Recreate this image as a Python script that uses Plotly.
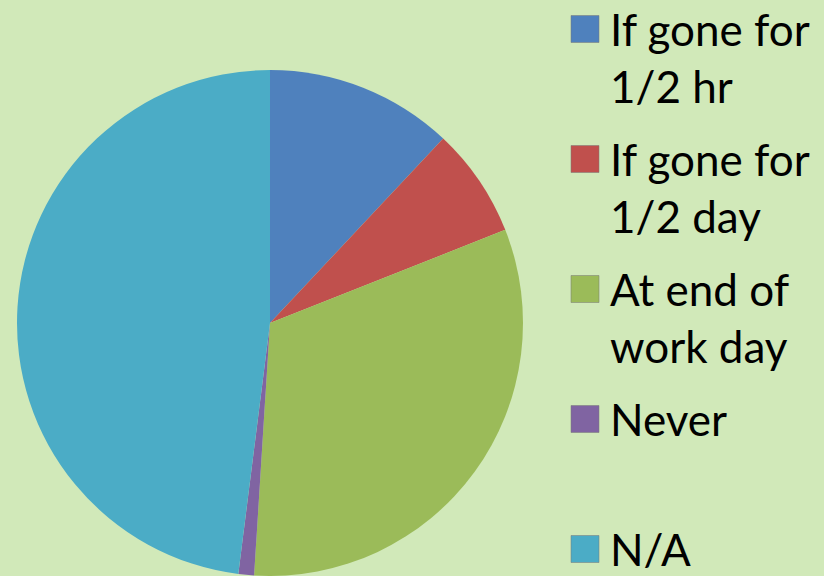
import plotly.graph_objects as go

labels = ["If gone for<br>1/2 hr", "If gone for<br>1/2 day", "At end of<br>work day", "Never", "N/A"]
values = [12, 7, 32, 1, 48]
colors = ["#4F81BD", "#C0504D", "#9BBB59", "#8064A2", "#4BACC6"]

W, H = 824, 576
fig = go.Figure(go.Pie(
    labels=labels, values=values, sort=False, direction="clockwise", rotation=0,
    marker=dict(colors=colors, line=dict(width=0)),
    textinfo="none", hoverinfo="label+percent", showlegend=False,
    domain=dict(x=[17/W, 523/W], y=[0, 506/H]),
))

# legend drawn as key squares + text (Excel-style large legend)
FS = 44
LINE = 1.3 * FS
shapes, annotations = [], []
for i, (lab, col) in enumerate(zip(labels, colors)):
    cy = 29 + 130.0 * i          # pixel centre of the key square (from top)
    shapes.append(dict(type="rect", xref="paper", yref="paper",
                       x0=571/W, x1=599/W, y0=1-(cy+13.5)/H, y1=1-(cy-13.5)/H,
                       fillcolor=col, line=dict(color="rgba(120,120,120,0.5)", width=1)))
    nlines = lab.count("<br>") + 1
    tc = cy + (nlines - 1) * LINE / 2
    annotations.append(dict(xref="paper", yref="paper", x=608/W, y=1-tc/H,
                            xanchor="left", yanchor="middle", align="left",
                            text=lab, showarrow=False,
                            font=dict(family="Lato", size=FS, color="#000000")))

fig.update_layout(
    width=W, height=H, margin=dict(l=0, r=0, t=0, b=0),
    paper_bgcolor="#D1E9B9", plot_bgcolor="#D1E9B9",
    font=dict(family="Lato", size=FS, color="#000000"),
    shapes=shapes, annotations=annotations,
)
fig.write_html("out.html")
